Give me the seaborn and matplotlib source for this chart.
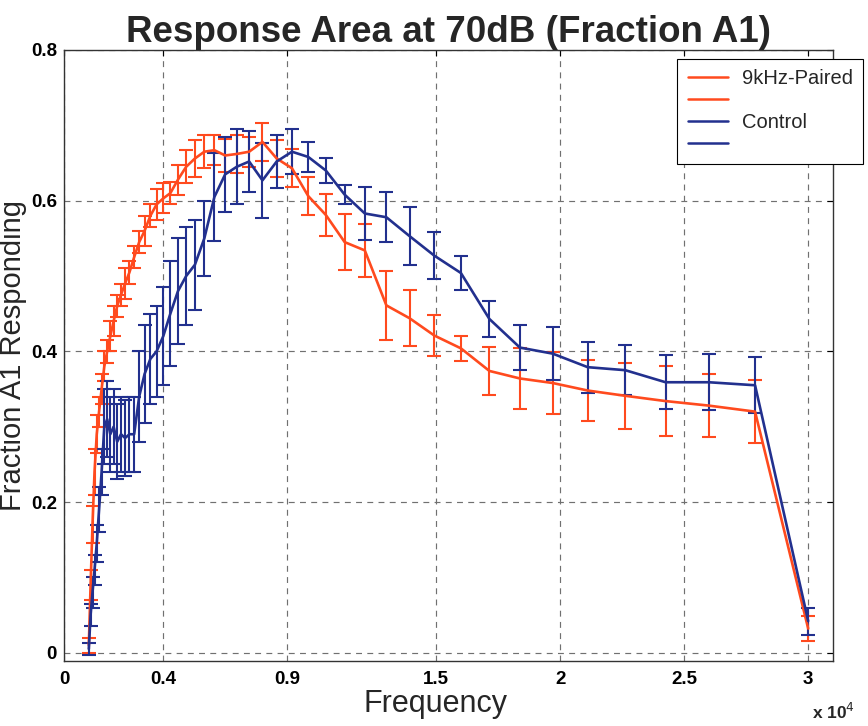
import numpy as np
import pandas as pd
import matplotlib
matplotlib.use("Agg")
import matplotlib.pyplot as plt
from matplotlib.lines import Line2D
import seaborn as sns

# ---- data ----
freq = [1000, 1072, 1149, 1231, 1320, 1414, 1516, 1625, 1741, 1866,
        2000, 2144, 2297, 2462, 2639, 2828, 3031, 3249, 3482, 3732,
        4000, 4287, 4595, 4925, 5278, 5657, 6063, 6498, 6964, 7464,
        8000, 8574, 9190, 9849, 10556, 11314, 12126, 12996, 13929, 14929,
        16000, 17148, 18379, 19698, 21112, 22627, 24251, 25992, 27858, 30000]

paired_mean = [0.01, 0.09, 0.17, 0.24, 0.29, 0.32, 0.35, 0.38, 0.40, 0.42,
               0.44, 0.46, 0.475, 0.49, 0.505, 0.525, 0.545, 0.56, 0.58, 0.595,
               0.603, 0.61, 0.628, 0.645, 0.656, 0.665, 0.667, 0.66, 0.662, 0.665,
               0.678, 0.656, 0.643, 0.606, 0.581, 0.545, 0.534, 0.461, 0.444, 0.421,
               0.404, 0.374, 0.364, 0.358, 0.348, 0.341, 0.334, 0.328, 0.320, 0.032]
paired_err = [0.01, 0.02, 0.025, 0.03, 0.025, 0.02, 0.02, 0.02, 0.015, 0.02,
              0.02, 0.015, 0.015, 0.02, 0.015, 0.015, 0.015, 0.02, 0.015, 0.02,
              0.02, 0.015, 0.02, 0.022, 0.025, 0.022, 0.02, 0.022, 0.025, 0.02,
              0.025, 0.025, 0.025, 0.025, 0.028, 0.037, 0.035, 0.046, 0.037, 0.027,
              0.017, 0.032, 0.04, 0.041, 0.041, 0.044, 0.047, 0.042, 0.042, 0.017]

control_mean = [0.005, 0.05, 0.08, 0.11, 0.145, 0.19, 0.24, 0.30, 0.31, 0.29,
                0.30, 0.28, 0.29, 0.285, 0.29, 0.29, 0.34, 0.37, 0.39, 0.40,
                0.42, 0.45, 0.48, 0.50, 0.515, 0.55, 0.605, 0.635, 0.645, 0.652,
                0.627, 0.652, 0.665, 0.658, 0.64, 0.608, 0.583, 0.578, 0.553, 0.527,
                0.504, 0.443, 0.405, 0.397, 0.379, 0.375, 0.359, 0.359, 0.355, 0.042]
control_err = [0.008, 0.015, 0.02, 0.02, 0.025, 0.03, 0.03, 0.05, 0.05, 0.05,
               0.05, 0.05, 0.05, 0.05, 0.05, 0.05, 0.06, 0.065, 0.06, 0.06,
               0.065, 0.07, 0.07, 0.065, 0.06, 0.05, 0.058, 0.05, 0.05, 0.04,
               0.05, 0.035, 0.03, 0.02, 0.016, 0.013, 0.035, 0.033, 0.038, 0.031,
               0.022, 0.024, 0.03, 0.035, 0.034, 0.033, 0.036, 0.037, 0.037, 0.018]

xtick_vals = [0, 4000, 9000, 15000, 20000, 25000, 30000]
xtick_labels = ["0", "0.4", "0.9", "1.5", "2", "2.5", "3"]
ytick_vals = [0, 0.2, 0.4, 0.6, 0.8]
ytick_labels = ["0", "0.2", "0.4", "0.6", "0.8"]

RED = "#FF4A1E"
BLUE = "#22308E"

# ---- figure ----
sns.set_style("white")
plt.rcParams["font.family"] = ["Liberation Sans", "DejaVu Sans"]

fig = plt.figure(figsize=(8.68, 7.26), dpi=100)
ax = fig.add_axes([64 / 868, 1 - 661 / 726, (833 - 64) / 868, (661 - 50) / 726])

df = pd.concat([
    pd.DataFrame({"Frequency": freq, "value": paired_mean, "group": "9kHz-Paired"}),
    pd.DataFrame({"Frequency": freq, "value": control_mean, "group": "Control"}),
])

ax.errorbar(freq, paired_mean, yerr=paired_err, fmt="none", ecolor=RED,
            elinewidth=1.5, capsize=4.8, capthick=1.5, zorder=2)
ax.errorbar(freq, control_mean, yerr=control_err, fmt="none", ecolor=BLUE,
            elinewidth=1.5, capsize=4.8, capthick=1.5, zorder=3)
sns.lineplot(data=df, x="Frequency", y="value", hue="group",
             palette={"9kHz-Paired": RED, "Control": BLUE},
             linewidth=1.9, ax=ax, legend=False, zorder=4, sort=False)

ax.set_xlim(0, 31000)
ax.set_ylim(-0.011, 0.8)
ax.set_xticks(xtick_vals)
ax.set_xticklabels(xtick_labels)
ax.set_yticks(ytick_vals)
ax.set_yticklabels(ytick_labels)
ax.tick_params(axis="both", direction="in", top=True, right=True, length=4,
               width=0.8, labelsize=13.5, colors="black")
ax.tick_params(axis="x", pad=7)
ax.tick_params(axis="y", pad=5)
for lab in ax.get_xticklabels() + ax.get_yticklabels():
    lab.set_fontweight("bold")

ax.grid(True, color="#707070", linestyle=(0, (5, 4.5)), linewidth=0.85)
for sp in ax.spines.values():
    sp.set_color("#333333")
    sp.set_linewidth(1.0)

ax.set_xlabel("Frequency", fontsize=22)
ax.set_ylabel("Fraction A1 Responding", fontsize=21)
ax.xaxis.set_label_coords((436 - 64) / 769, -0.046)
ax.yaxis.set_label_coords((27 - 64) / 769, 0.5)
ax.set_title("Response Area at 70dB (Fraction A1)", fontsize=26.5,
             fontweight="bold", pad=6)

fig.text(812 / 868, 1 - 719 / 726, r"x 10$^4$", fontsize=12.5, fontweight="bold",
         ha="left", va="baseline")

handles = [Line2D([], [], color=RED, lw=1.8), Line2D([], [], color=RED, lw=1.8),
           Line2D([], [], color=BLUE, lw=1.8), Line2D([], [], color=BLUE, lw=1.8)]
labels = ["9kHz-Paired", "", "Control", ""]
leg = fig.legend(handles, labels, loc="upper right",
                 bbox_to_anchor=(863 / 868, 1 - 59 / 726), borderaxespad=0,
                 fontsize=14.5, frameon=True, fancybox=False, edgecolor="black",
                 framealpha=1, handlelength=2.0, labelspacing=0.15,
                 borderpad=0.5, handletextpad=0.7)
leg.get_frame().set_linewidth(0.8)

fig.savefig("out.png", dpi=100, facecolor="white")
